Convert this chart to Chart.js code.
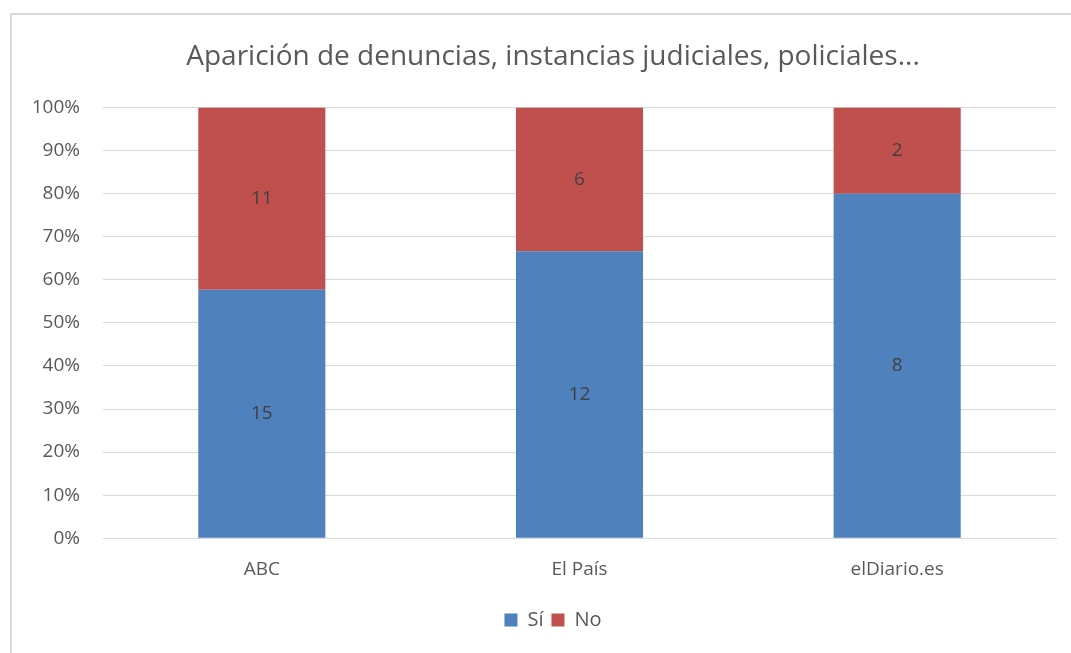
<!DOCTYPE html>
<html>
<head>
<meta charset="utf-8">
<script src="https://cdn.jsdelivr.net/npm/chart.js@4"></script>
<style>
  body { margin: 0; background: #fff; overflow: hidden; }
  #frame { position: absolute; left: 10px; top: 13px; width: 1100px; height: 700px; border: 2px solid #d9d9d9; }
  #wrap { position: absolute; left: 0; top: 0; width: 1071px; height: 653px; }
</style>
</head>
<body>
<div id="frame"></div>
<div id="wrap"><canvas id="chart"></canvas></div>
<script>
const categories = ["ABC", "El País", "elDiario.es"];
const siCounts = [15, 12, 8];
const noCounts = [11, 6, 2];
const yTicks = [0, 10, 20, 30, 40, 50, 60, 70, 80, 90, 100];

const textColor = "#595959";
const fontFamily = "'Open Sans', sans-serif";

// convert counts to share of each bar (100% stacked)
const totals = siCounts.map((v, i) => v + noCounts[i]);
const siPct = siCounts.map((v, i) => v / totals[i] * 100);
const noPct = noCounts.map((v, i) => v / totals[i] * 100);

// draws the count in the middle of each segment
const barLabels = {
    id: "barLabels",
    afterDatasetsDraw(chart) {
        const ctx = chart.ctx;
        ctx.save();
        ctx.font = "19px " + fontFamily;
        ctx.fillStyle = "#404040";
        ctx.textAlign = "center";
        ctx.textBaseline = "middle";
        chart.data.datasets.forEach((ds, di) => {
            const meta = chart.getDatasetMeta(di);
            meta.data.forEach((bar, i) => {
                const y = (bar.y + bar.base) / 2;
                ctx.fillText(String(ds.counts[i]), bar.x, y);
            });
        });
        ctx.restore();
    }
};

// title and legend sit centred on the whole frame, a bit right of the plot
const shiftBlocks = {
    id: "shiftBlocks",
    afterLayout(chart) {
        const dx = 20;
        [chart.titleBlock, chart.legend].forEach(b => {
            if (b) { b.left += dx; b.right += dx; }
        });
    }
};

new Chart(document.getElementById("chart"), {
    type: "bar",
    data: {
        labels: categories,
        datasets: [
            { label: "Sí", data: siPct, counts: siCounts, backgroundColor: "#4F81BD" },
            { label: "No", data: noPct, counts: noCounts, backgroundColor: "#C0504D" }
        ]
    },
    options: {
        responsive: true,
        maintainAspectRatio: false,
        animation: false,
        categoryPercentage: 1,
        barPercentage: 0.4,
        layout: { padding: { left: 10, right: 15, top: 0, bottom: 13 } },
        plugins: {
            title: {
                display: true,
                text: "Aparición de denuncias, instancias judiciales, policiales...",
                color: textColor,
                font: { family: fontFamily, size: 28, weight: "normal" },
                padding: { top: 40, bottom: 34 }
            },
            legend: {
                position: "bottom",
                labels: {
                    color: textColor,
                    font: { family: fontFamily, size: 20 },
                    boxWidth: 13,
                    boxHeight: 13,
                    padding: 8
                }
            },
            tooltip: { enabled: false }
        },
        scales: {
            x: {
                stacked: true,
                grid: { display: false, drawTicks: false },
                border: { color: "#d9d9d9" },
                afterFit(scale) { scale.height += 1; },
                ticks: { color: textColor, font: { family: fontFamily, size: 19 }, padding: 20 }
            },
            y: {
                stacked: true,
                min: 0,
                max: 100,
                afterBuildTicks(scale) { scale.ticks = yTicks.map(v => ({ value: v })); },
                afterFit(scale) { scale.width = 93; },
                grid: { color: "#d9d9d9", lineWidth: 1, drawTicks: false },
                border: { display: false },
                ticks: {
                    color: textColor,
                    font: { family: fontFamily, size: 19 },
                    padding: 23,
                    callback: v => v + "%"
                }
            }
        }
    },
    plugins: [barLabels, shiftBlocks]
});
</script>
</body>
</html>
